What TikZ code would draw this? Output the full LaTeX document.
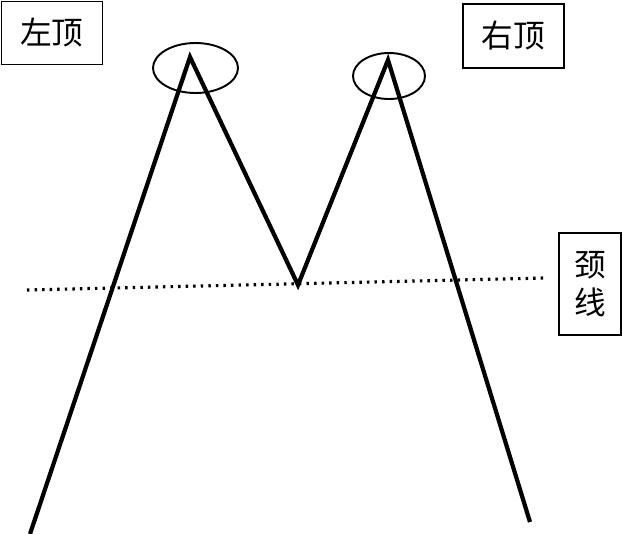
\documentclass[tikz,border=0pt]{standalone}
\usepackage{fontspec}
\newfontfamily\cjk{Noto Sans CJK SC}
\usetikzlibrary{shapes.geometric}

\begin{document}
\begin{tikzpicture}[
    lbl/.style={draw, line width=0.9pt, inner sep=0pt, align=center, font=\cjk\fontsize{18}{22}\selectfont},
    ring/.style={draw, ellipse, line width=1.1pt, inner sep=0pt},
    price/.style={line width=2.4pt, line join=miter},
    neck/.style={line width=1.8pt, dash pattern=on 1.4pt off 2.9pt},
]
\useasboundingbox (0,0) rectangle (12.46,-10.68);

\node[lbl, minimum width=2.02cm, minimum height=1.26cm] (lefttop) at (1.04,-0.66) {左顶};
\node[lbl, minimum width=2.02cm, minimum height=1.28cm] (righttop) at (10.27,-0.72) {右顶};
\node[lbl, minimum width=1.24cm, minimum height=2.04cm] (necklbl) at (11.8,-5.68) {颈\\线};

% price path
\coordinate (start) at (0.6,-10.68);
\coordinate (peakL) at (3.8,-1.14);
\coordinate (valley) at (5.96,-5.7);
\coordinate (peakR) at (7.76,-1.2);
\coordinate (finish) at (10.6,-10.44);
\draw[price] (start) -- (peakL) -- (valley) -- (peakR) -- (finish);

\node[ring, minimum width=1.7cm, minimum height=1.0cm] (ringL) at (3.91,-1.36) {};
\node[ring, minimum width=1.44cm, minimum height=0.92cm] (ringR) at (7.78,-1.52) {};

% neckline
\coordinate (neckA) at (0.54,-5.8);
\coordinate (neckB) at (10.9,-5.56);
\draw[neck] (neckA) -- (neckB);

\end{tikzpicture}
\end{document}
